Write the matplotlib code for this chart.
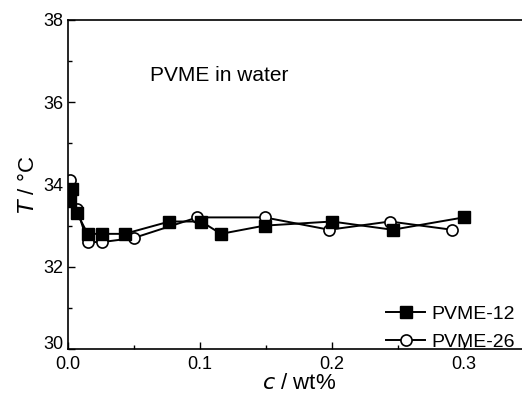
import matplotlib
matplotlib.use('Agg')
import matplotlib.pyplot as plt
from matplotlib.ticker import MultipleLocator

plt.rcParams['font.family'] = ['Liberation Sans', 'DejaVu Sans']

# PVME-12 (filled squares)
c12 = [0.0015, 0.003, 0.007, 0.015, 0.026, 0.043, 0.077, 0.101, 0.116, 0.149, 0.200, 0.246, 0.300]
t12 = [33.6, 33.9, 33.3, 32.8, 32.8, 32.8, 33.1, 33.1, 32.8, 33.0, 33.1, 32.9, 33.2]

# PVME-26 (open circles)
c26 = [0.0015, 0.007, 0.015, 0.026, 0.050, 0.098, 0.149, 0.198, 0.244, 0.291]
t26 = [34.1, 33.4, 32.6, 32.6, 32.7, 33.2, 33.2, 32.9, 33.1, 32.9]

fig = plt.figure(figsize=(5.22, 4.0), dpi=100)
ax = fig.add_axes([0.130, 0.1275, 0.885, 0.8225])

ax.plot(c26, t26, '-o', color='black', mfc='white', mec='black', ms=8, mew=1.2, lw=1.4, label='PVME-26')
ax.plot(c12, t12, '-s', color='black', ms=8, lw=1.4, label='PVME-12')

ax.set_xlim(0, 0.35)
ax.set_ylim(30, 38)
ax.xaxis.set_major_locator(MultipleLocator(0.1))
ax.xaxis.set_minor_locator(MultipleLocator(0.05))
ax.yaxis.set_major_locator(MultipleLocator(2))
ax.yaxis.set_minor_locator(MultipleLocator(1))
ax.tick_params(which='both', direction='in', labelsize=13, width=1)
ax.tick_params(which='major', length=5)
ax.tick_params(which='minor', length=3)
ax.tick_params(axis='x', pad=5)
ax.tick_params(axis='y', pad=3)
ax.spines['right'].set_visible(False)
for s in ['left', 'bottom', 'top']:
    ax.spines[s].set_linewidth(1.2)

# lift the lowest y label a little so it sits above 0.0, like the reference
fig.canvas.draw()
for tick in ax.yaxis.get_major_ticks():
    if abs(tick.get_loc() - 30) < 1e-6:
        tick.label1.set_verticalalignment('baseline')

ax.set_xlabel(r'$c$ / wt%', fontsize=16, labelpad=0)
ax.set_ylabel(r'$T$ / °C', fontsize=16, labelpad=3)
ax.text(0.062, 36.65, 'PVME in water', fontsize=15, va='center')

h, l = ax.get_legend_handles_labels()
ax.legend(h[::-1], l[::-1], loc='lower right', bbox_to_anchor=(1.005, -0.06), frameon=False,
          fontsize=14, handlelength=2.0, handletextpad=0.3, labelspacing=0.55)

fig.savefig('out.png', dpi=100)
